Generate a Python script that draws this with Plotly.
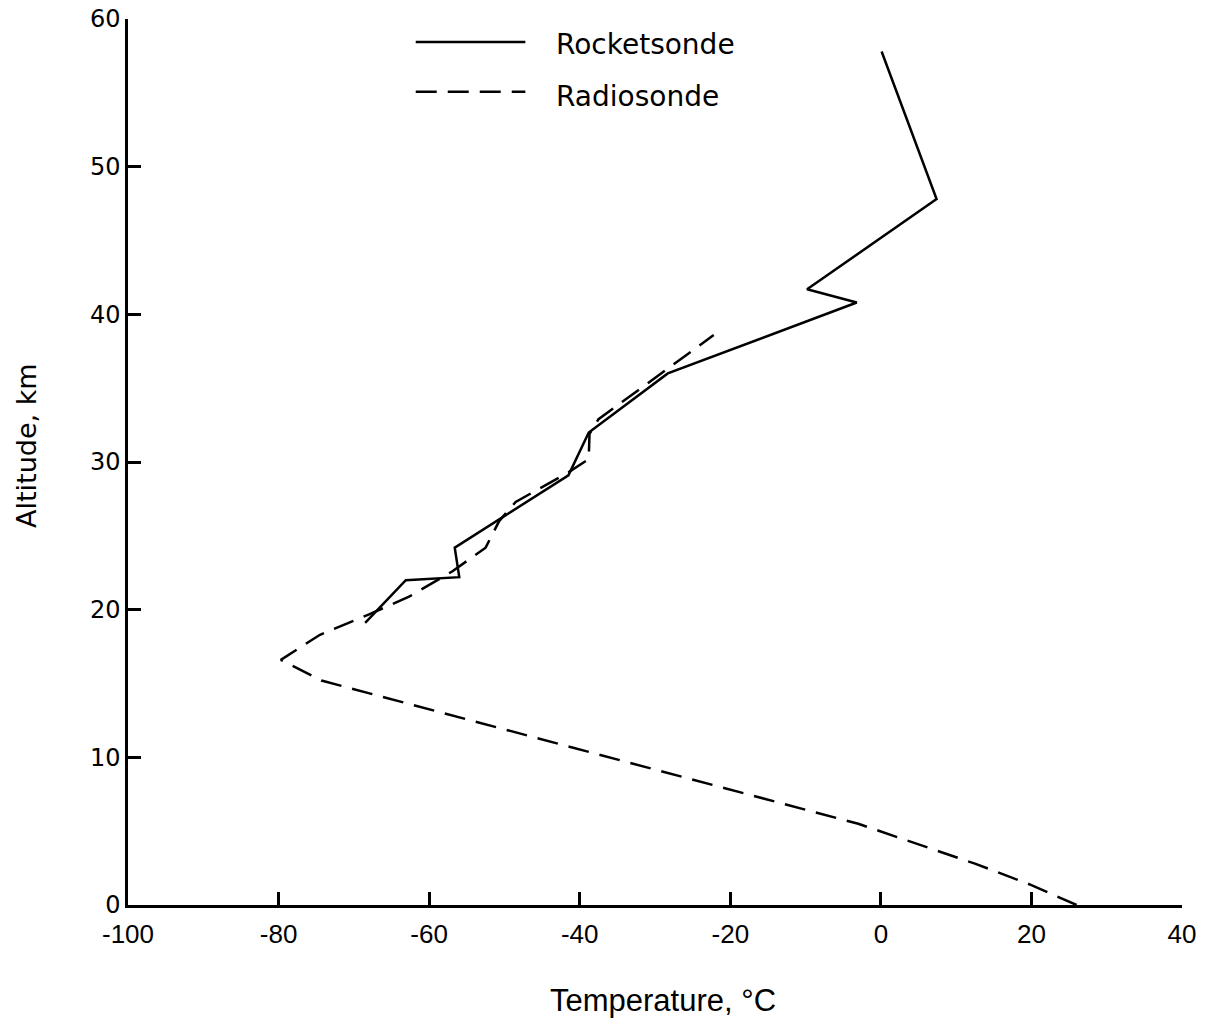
import plotly.graph_objects as go

# Rocketsonde profile (temperature °C, altitude km), top to bottom
rocket_temp = [0.1, 7.4, -9.8, -3.2, -28.3, -38.8, -41.5, -56.6, -56.0, -63.1, -68.5]
rocket_alt = [57.8, 47.8, 41.7, 40.8, 36.0, 32.0, 29.1, 24.2, 22.2, 22.0, 19.1]

# Radiosonde profile (temperature °C, altitude km), bottom to top
radio_temp = [26.0, 20.0, 12.5, -3.0, -74.3, -79.7, -74.5, -67.9, -62.6, -56.9,
              -52.5, -50.7, -48.5, -41.5, -38.8, -38.7, -37.5, -22.2]
radio_alt = [0.0, 1.35, 2.8, 5.5, 15.2, 16.6, 18.3, 19.7, 20.9, 22.6,
             24.2, 26.0, 27.3, 29.3, 30.2, 31.9, 32.9, 38.6]

x_ticks = [-100, -80, -60, -40, -20, 0, 20, 40]
x_ticktext = ["-100", "-80", "-60", "-40", "-20", "0", "20", "40"]
y_ticks = [0, 10, 20, 30, 40, 50, 60]

series_names = ["Rocketsonde", "Radiosonde"]

fig = go.Figure()
fig.add_trace(go.Scatter(x=rocket_temp, y=rocket_alt, mode="lines", name=series_names[0],
                         line=dict(color="black", width=2.5)))
fig.add_trace(go.Scatter(x=radio_temp, y=radio_alt, mode="lines", name=series_names[1],
                         line=dict(color="black", width=2.5, dash="21px,11px")))

narrow = "Liberation Sans Narrow, Arial Narrow, Liberation Sans, sans-serif"
wide = "DejaVu Sans, Verdana, sans-serif"

fig.update_layout(
    width=1217, height=1027,
    margin=dict(l=128, r=35, t=19, b=122),
    paper_bgcolor="white", plot_bgcolor="white",
    showlegend=False,
    xaxis=dict(range=[-100, 40], tickvals=x_ticks, ticktext=x_ticktext,
               ticks="inside", ticklen=13, tickwidth=2.5, tickcolor="black",
               showline=True, linewidth=2.5, linecolor="black",
               showgrid=False, zeroline=False, automargin=False,
               ticklabeloverflow="allow", ticklabelstandoff=4,
               tickfont=dict(family=narrow, size=26, color="black")),
    yaxis=dict(range=[0, 60], tickvals=y_ticks,
               ticks="inside", ticklen=13, tickwidth=2.5, tickcolor="black",
               showline=True, linewidth=2.5, linecolor="black",
               showgrid=False, zeroline=False, automargin=False,
               ticklabeloverflow="allow",
               tickfont=dict(family=wide, size=24, color="black")),
)

# Legend drawn as sample lines and labels
fig.add_shape(type="line", xref="paper", yref="paper", x0=0.273, x1=0.377, y0=0.974, y1=0.974,
              line=dict(color="black", width=2.5))
fig.add_shape(type="line", xref="paper", yref="paper", x0=0.273, x1=0.377, y0=0.918, y1=0.918,
              line=dict(color="black", width=2.5, dash="21px,11px"))
fig.add_annotation(xref="paper", yref="paper", x=0.404, y=0.971, text=series_names[0],
                   showarrow=False, xanchor="left", yanchor="middle",
                   font=dict(family=wide, size=28, color="black"))
fig.add_annotation(xref="paper", yref="paper", x=0.404, y=0.913, text=series_names[1],
                   showarrow=False, xanchor="left", yanchor="middle",
                   font=dict(family=wide, size=28, color="black"))

# Axis titles
fig.add_annotation(xref="paper", yref="paper", x=(663 - 128) / 1054, y=(905 - 1000) / 886,
                   text="Temperature, °C", showarrow=False, xanchor="center", yanchor="middle",
                   font=dict(family=narrow, size=31, color="black"))
fig.add_annotation(xref="paper", yref="paper", x=(26 - 128) / 1054, y=(905 - 446) / 886,
                   text="Altitude, km", showarrow=False, textangle=-90,
                   xanchor="center", yanchor="middle",
                   font=dict(family=wide, size=27, color="black"))

fig.write_html("out.html")
